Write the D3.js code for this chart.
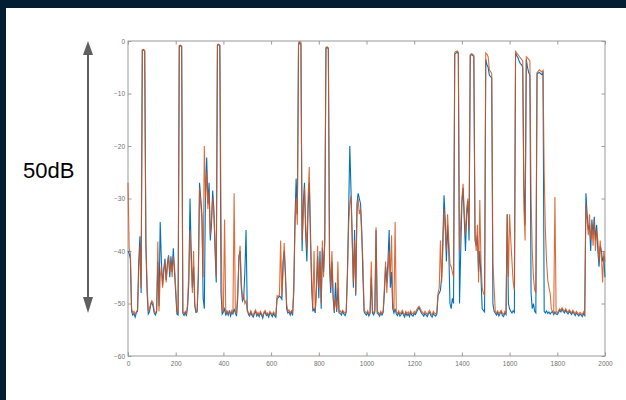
<!DOCTYPE html>
<html><head>
<meta charset="utf-8">
<script src="https://d3js.org/d3.v7.min.js"></script>
<style>
  body { margin: 0; background: #ffffff; }
  svg { display: block; }
  .tick text { font-family: "Liberation Sans", Arial, sans-serif; font-size: 6.5px; fill: #707070; }
  .tick line { stroke: #9a9a9a; }
</style>
</head>
<body>
<svg id="chart" width="626" height="400"></svg>
<script>
// Sample spacing of the trace (every 5th sample of 0..2000)
const sampleStep = 5;

// Orange trace, dB (rows of 20 samples = 100 units)
const orangeDb = [
  -27, -39.5, -40.5, -51, -51.8, -51.5, -52.0, -51.6, -51.2, -44, -39, -47, -1.7, -1.6, -1.8, -38.5, -46, -51.5, -51.0, -50.0,
  -49.5, -49.8, -51.5, -51.8, -51.4, -38.2, -51.5, -45, -43, -47, -44, -42, -46, -43, -41, -44, -42, -45, -41, -43,
  -47, -51.5, -51.8, -0.9, -0.8, -1.0, -51.6, -51.9, -51.5, -52.0, -50.0, -44, -36, -42, -48, -40, -50, -51.5, -51.2, -44,
  -28, -31, -34, -45, -20, -30, -25, -32, -28.5, -37, -34, -30, -33, -38, -45, -0.7, -0.6, -0.8, -34, -51.5,
  -51.2, -34, -51.8, -51.4, -52.0, -51.6, -51.8, -51.3, -51.7, -29, -51.5, -52, -48, -42, -39, -46, -49, -48.5, -50, -49.5,
  -51.5, -51.8, -52.1, -51.4, -51.9, -52.3, -51.6, -51.2, -52.0, -51.7, -52.2, -51.5, -51.9, -52.4, -51.6, -51.3, -52.0, -51.8, -52.2, -51.5,
  -51.8, -52.1, -51.6, -51.9, -52.2, -48.5, -48.7, -48.3, -38, -48.8, -44, -38.5, -45, -50, -51.5, -51.2, -51.8, -51.4, -51.9, -47,
  -36, -30, -35, -0.3, -0.1, -0.2, -38, -33, -28, -35, -40, -30, -24, -38, -45, -51, -40, -51.5, -48, -39,
  -47, -42, -50, -38, -45, -38, -1.2, -1.1, -1.3, -41, -47, -40, -48, -51.5, -49, -51.2, -42, -51.6, -51.4, -51.8,
  -51.3, -51.6, -51.9, -51.5, -45, -35, -31, -29.5, -38, -46, -38, -48, -33, -30, -33, -32, -37, -42, -51.2, -51.6,
  -51.8, -51.4, -52.0, -51.6, -42, -51.5, -51.8, -51.3, -35.5, -51.5, -51.7, -52.1, -51.5, -51.9, -51.4, -47, -42, -48, -44, -40,
  -45, -37, -50, -51.5, -34.5, -51.6, -51.9, -51.4, -52.0, -51.7, -51.3, -51.8, -52.2, -51.5, -51.9, -51.6, -52.1, -51.4, -51.8, -52.0,
  -51.5, -51.8, -51.2, -50.8, -50.5, -50.9, -51.4, -51.7, -52.0, -51.5, -51.8, -52.1, -51.6, -51.3, -51.9, -52.2, -51.5, -51.8, -52.0, -51.6,
  -48, -47, -38, -46, -40, -32, -36, -40, -33, -38, -42.5, -43, -44, -45, -2.2, -2.0, -1.9, -2.1, -40, -35,
  -30, -27.2, -33, -37, -32, -30, -36, -2.6, -2.4, -2.5, -2.7, -36, -40, -35, -46, -30.3, -42, -47, -48, -48.5,
  -2.3, -2.5, -3.0, -5.5, -5.8, -6.2, -42.3, -47, -51.5, -51.8, -51.4, -52.0, -51.6, -51.3, -51.9, -52.1, -51.5, -51.8, -33, -45,
  -33, -38, -42, -46, -47.4, -2.0, -2.3, -2.6, -2.9, -3.2, -3.5, -3.8, -32, -38, -3.0, -3.2, -3.5, -3.8, -30, -40,
  -45, -47.4, -48, -6.0, -5.8, -5.5, -5.7, -5.9, -5.6, -25, -36, -42, -45.5, -47, -48, -51, -51.6, -51.9, -29.7, -51.5,
  -51.8, -51.4, -51.0, -51.3, -50.8, -51.2, -51.5, -51.0, -51.4, -51.7, -51.2, -51.5, -51.8, -51.3, -51.6, -52.0, -51.5, -51.8, -52.1, -51.7,
  -51.9, -52.2, -51.6, -52.0, -31, -34, -37, -33, -38, -35, -39, -34, -40, -36, -38, -42, -38, -41, -46, -40,
  -42
];

// Blue trace, dB
const blueDb = [
  -40, -40.5, -41.5, -51.5, -52.2, -51.9, -52.6, -51.8, -51.5, -42, -37.2, -48, -1.8, -1.7, -1.9, -39, -48, -52, -51.6, -50.3,
  -49.8, -50.5, -51.8, -52.2, -51.6, -42, -50.5, -34.5, -42, -46.5, -43.5, -41.5, -45.5, -42.5, -40.8, -45, -41, -44, -39.5, -44,
  -48, -52, -52.2, -1.0, -0.9, -1.1, -51.9, -52.3, -51.7, -52.4, -50.5, -46, -30, -40, -47, -43, -50.5, -51.7, -51.6, -45,
  -27, -30, -33, -49, -51, -28, -22.2, -31, -27, -38, -35, -28.5, -32, -40, -46, -0.8, -0.7, -0.9, -48, -52,
  -51.6, -51, -52.3, -51.6, -52.2, -51.3, -52.4, -51.7, -52.0, -51, -51.8, -52.4, -49, -41, -40, -47, -49.5, -49, -44, -36,
  -51, -52.1, -52.4, -51.7, -52.3, -52.6, -51.9, -51.5, -52.4, -52.0, -52.5, -51.8, -52.2, -52.8, -51.9, -51.6, -52.3, -52.1, -52.6, -51.8,
  -52.1, -52.5, -51.9, -52.3, -52.6, -49, -48.9, -48.6, -48.8, -49.2, -42, -40, -44, -51, -51.8, -51.6, -52.2, -51.5, -52.3, -48,
  -34, -26.2, -33, -0.8, -0.3, -0.5, -40, -31, -27, -37, -42, -32, -27, -36, -47, -51.5, -51, -51.8, -47, -41,
  -49, -40, -51, -39.5, -44, -38, -1.4, -1.2, -1.5, -43, -48, -42, -49, -51.8, -46, -51.6, -47, -51.8, -51.9, -52.2,
  -51.5, -52.0, -52.3, -51.7, -44, -33, -20, -28.4, -37, -47, -36, -48.5, -31, -29, -30, -31, -36, -45, -51.6, -52.0,
  -52.2, -51.7, -52.4, -51.9, -45, -51.8, -52.2, -51.6, -36, -51.9, -52.0, -52.4, -51.8, -52.2, -51.7, -48, -43, -46, -42, -36,
  -47, -44, -51, -51.8, -51, -52.0, -52.3, -51.7, -52.4, -52.1, -51.6, -52.2, -52.6, -51.8, -52.3, -52.0, -52.5, -51.7, -52.2, -52.4,
  -51.9, -52.1, -51.6, -51.2, -50.8, -51.3, -51.8, -52.1, -52.4, -51.9, -52.2, -52.5, -51.9, -51.7, -52.3, -52.6, -51.9, -52.2, -52.4, -52.0,
  -48.5, -48, -47.5, -45, -38, -29.4, -34, -42, -35, -40, -50, -51, -49, -50, -2.5, -2.3, -2.1, -2.4, -50, -40,
  -31, -28, -34, -40, -33, -30.5, -38, -2.8, -2.6, -2.7, -3.0, -38, -39, -37, -44, -40, -45, -51, -51.3, -51.6,
  -3.5, -4.5, -5, -6.5, -6.8, -7, -50, -51.5, -51.8, -52.2, -51.7, -52.4, -51.9, -51.6, -52.3, -52.5, -51.8, -52.1, -33, -50,
  -51, -51.5, -51.8, -51.4, -51.7, -2.3, -2.8, -3.2, -3.8, -4.3, -4.5, -5, -27.8, -35, -3.5, -5, -6, -6.5, -48, -51,
  -50, -51.5, -51.8, -6.3, -6.1, -6.0, -6.2, -6.4, -6.0, -51.5, -51.8, -51.4, -51.9, -51.6, -52, -51.7, -51.5, -52.1, -51.6, -52.0,
  -52.1, -51.7, -51.3, -51.6, -51.1, -51.5, -51.8, -51.3, -51.7, -52.0, -51.5, -51.8, -52.1, -51.6, -51.9, -52.3, -51.8, -52.1, -52.4, -52.0,
  -52.2, -52.5, -51.9, -52.3, -29, -33, -36, -35, -40, -34, -37, -33.5, -38, -35, -40, -43, -39, -40, -42, -41,
  -45
];

const xTicks = [0, 200, 400, 600, 800, 1000, 1200, 1400, 1600, 1800, 2000];
const yTicks = [0, -10, -20, -30, -40, -50, -60];
const spanLabel = "50dB";

const svg = d3.select("#chart");

// soften the traces a little, the reference is a scaled-down screenshot
svg.append("defs").append("filter").attr("id", "soft")
  .attr("filterUnits", "userSpaceOnUse")
  .attr("x", 100).attr("y", 20).attr("width", 530).attr("height", 360)
  .append("feGaussianBlur").attr("stdDeviation", 0.6);

// dark slide frame on the top and left
svg.append("rect").attr("x", 0).attr("y", 0).attr("width", 626).attr("height", 400).attr("fill", "#031d33");
svg.append("rect").attr("x", 6).attr("y", 8).attr("width", 620).attr("height", 392).attr("fill", "#ffffff");

const plot = { left: 128, right: 605, top: 41, bottom: 356 };

const x = d3.scaleLinear().domain([0, 2000]).range([plot.left, plot.right]);
const y = d3.scaleLinear().domain([-60, 0]).range([plot.bottom, plot.top]);

const fmt = d3.format("d");

// axes, MATLAB style: ticks inward on all four sides
svg.append("g").attr("transform", `translate(0,${plot.bottom})`)
  .call(d3.axisBottom(x).tickValues(xTicks).tickFormat(fmt).tickSizeInner(-3.5).tickSizeOuter(0).tickPadding(5))
  .call(g => g.select(".domain").remove());
svg.append("g").attr("transform", `translate(0,${plot.top})`)
  .call(d3.axisTop(x).tickValues(xTicks).tickSizeInner(-3.5).tickSizeOuter(0).tickFormat(""))
  .call(g => g.select(".domain").remove());
svg.append("g").attr("transform", `translate(${plot.left},0)`)
  .call(d3.axisLeft(y).tickValues(yTicks).tickFormat(fmt).tickSizeInner(-3.5).tickSizeOuter(0).tickPadding(3))
  .call(g => g.select(".domain").remove());
svg.append("g").attr("transform", `translate(${plot.right},0)`)
  .call(d3.axisRight(y).tickValues(yTicks).tickSizeInner(-3.5).tickSizeOuter(0).tickFormat(""))
  .call(g => g.select(".domain").remove());

svg.append("rect")
  .attr("x", plot.left).attr("y", plot.top)
  .attr("width", plot.right - plot.left).attr("height", plot.bottom - plot.top)
  .attr("fill", "none").attr("stroke", "#9a9a9a").attr("stroke-width", 1);

const line = d3.line()
  .x((d, i) => x(i * sampleStep))
  .y(d => y(d));

const traces = svg.append("g").attr("filter", "url(#soft)");
traces.append("path").datum(blueDb)
  .attr("fill", "none").attr("stroke", "#0072BD").attr("stroke-width", 1.1)
  .attr("d", line);
traces.append("path").datum(orangeDb)
  .attr("fill", "none").attr("stroke", "#D95319").attr("stroke-width", 1.1)
  .attr("stroke-opacity", 0.85)
  .attr("d", line);

// double-headed span arrow with label
const ax = 88;
const arrowTop = 41, arrowBottom = 313;
svg.append("line").attr("x1", ax).attr("x2", ax).attr("y1", arrowTop + 10).attr("y2", arrowBottom - 10)
  .attr("stroke", "#5f5f5f").attr("stroke-width", 2);
svg.append("path").attr("d", `M${ax},${arrowTop} L${ax - 5},${arrowTop + 14} L${ax + 5},${arrowTop + 14} Z`).attr("fill", "#5f5f5f");
svg.append("path").attr("d", `M${ax},${arrowBottom} L${ax - 5},${arrowBottom - 16} L${ax + 5},${arrowBottom - 16} Z`).attr("fill", "#5f5f5f");

svg.append("text")
  .attr("x", 23).attr("y", 178)
  .attr("font-family", "'Liberation Sans', Arial, sans-serif")
  .attr("font-size", 22)
  .attr("fill", "#000")
  .text(spanLabel);
</script>
</body>
</html>
